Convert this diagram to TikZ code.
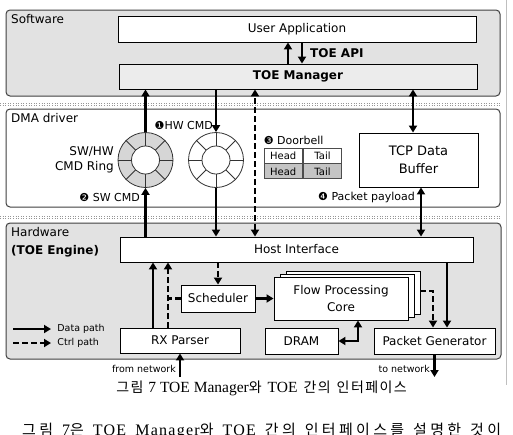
\documentclass[tikz,border=0pt]{standalone}
\usepackage{fontspec}
\setmainfont{DejaVu Sans}
\newfontfamily\krwide[LetterSpace=22]{Noto Sans CJK KR}
\newfontfamily\capwide[LetterSpace=8]{Liberation Serif}
\newfontfamily\krcap[LetterSpace=10]{Noto Sans CJK KR}
\newfontfamily\capcap{Liberation Serif}
\usetikzlibrary{arrows.meta,positioning}

\definecolor{panelgray}{RGB}{226,226,226}
\definecolor{mgrgray}{RGB}{236,236,236}
\definecolor{ringgray}{RGB}{214,214,214}
\definecolor{cellgray}{RGB}{196,196,196}
\definecolor{sepgray}{RGB}{150,150,150}

\tikzset{
  panel/.style={draw=black!75, line width=1pt, rounded corners=4pt, inner sep=0pt},
  blk/.style={draw=black, line width=0.9pt, fill=white, inner sep=0pt, align=center,
    font=\fontsize{12}{17}\selectfont},
  ring/.style={circle, draw=black!80, line width=0.8pt, minimum size=55pt, inner sep=0pt},
  tip/.style={-{Triangle[length=7pt,width=8pt]}},
  both/.style={{Triangle[length=7pt,width=8pt]}-{Triangle[length=7pt,width=8pt]}},
  data/.style={line width=2.8pt, tip},
  ctrl/.style={data, dash pattern=on 6pt off 3pt},
  lbl/.style={inner sep=0pt, font=\fontsize{11}{13}\selectfont},
  small/.style={inner sep=0pt, font=\fontsize{9.5}{11}\selectfont},
  cell/.style={draw=black!70, line width=0.8pt, minimum width=38.5pt, minimum height=15pt,
    inner sep=0pt, font=\fontsize{10}{12}\selectfont},
}

\begin{document}
\begin{tikzpicture}[x=1pt, y=-1pt]
    \useasboundingbox[fill=white] (0,0) rectangle (513,434);

    % Layers
    \node[panel, fill=panelgray, minimum width=494pt, minimum height=86pt] (swl) at (253,53) {};
    \node[panel, fill=white, minimum width=494pt, minimum height=98pt] (dmal) at (253,158) {};
    \node[panel, fill=panelgray, minimum width=495pt, minimum height=136pt] (hwl) at (253.5,291) {};
    \node[lbl, font=\fontsize{12}{14}\selectfont, anchor=north west] at (11,14) {Software};
    \node[lbl, font=\fontsize{12}{14}\selectfont, anchor=north west] at (11,113) {DMA driver};
    \node[lbl, font=\fontsize{12}{18}\selectfont, anchor=north west, align=left] at (11,227) {Hardware\\\textbf{(TOE Engine)}};

    % dotted separators
    \foreach \y in {103,105.5,216,218.5}
        \draw[sepgray, dotted, line width=0.6pt] (0,\y) -- (500,\y);
    \draw[black!25, line width=0.6pt] (506,0) -- (506,385);

    % Software
    \node[blk, minimum width=358pt, minimum height=26pt] (app) at (297,29) {User Application};
    \node[blk, fill=mgrgray, minimum width=358pt, minimum height=25pt] (mgr) at (298,76.5) {\textbf{TOE Manager}};
    \draw[data] ([xshift=-10pt]mgr.north) -- ([xshift=-10pt]mgr.north |- app.south);
    \draw[data] ([xshift=4pt]mgr.north |- app.south) -- ([xshift=4pt]mgr.north);
    \node[lbl, font=\fontsize{12}{14}\selectfont\bfseries, anchor=west] at (310,53) {TOE API};

    % DMA driver
    \node[ring, fill=ringgray] (ring1) at (145.5,160) {};
    \node[ring, fill=white] (ring2) at (216,160) {};
    \foreach \r in {ring1,ring2} {
        \foreach \a in {0,45,...,315}
            \draw[black!80, line width=0.8pt] (\r.center) -- (\r.\a);
        \node[circle, draw=black!80, line width=0.8pt, fill=white, minimum size=28pt] at (\r) {};
    }
    \node[lbl, font=\fontsize{12}{15.5}\selectfont, anchor=east, align=right] at (114,160) {SW/HW\\CMD Ring};
    \node[lbl, anchor=east] at (213,125) {❶HW CMD};
    \node[lbl, anchor=east] at (140,197) {❷ SW CMD};

    \node[cell, fill=white] (head1) at (283.25,155.5) {Head};
    \node[cell, fill=white, right=0pt of head1] (tail1) {Tail};
    \node[cell, fill=cellgray, below=0pt of head1] (head2) {Head};
    \node[cell, fill=cellgray, right=0pt of head2] (tail2) {Tail};
    \node[lbl, anchor=south west] at ([yshift=3pt]head1.north west) {❸ Doorbell};

    \node[blk, font=\fontsize{13}{18}\selectfont, minimum width=119pt, minimum height=54pt] (buf) at (418.5,160) {TCP Data\\Buffer};
    \node[lbl, anchor=east] at (415,197) {❹ Packet payload};

    % Hardware
    \node[blk, minimum width=353pt, minimum height=25pt] (hif) at (296.5,249.5) {Host Interface};
    \node[blk, minimum width=74pt, minimum height=27pt] (sched) at (218,298.5) {Scheduler};
    \node[blk, minimum width=134pt, minimum height=43pt] (fpc3) at (353,292.5) {};
    \node[blk, minimum width=134pt, minimum height=43pt] (fpc2) at (347,295.5) {};
    \node[blk, minimum width=134pt, minimum height=43pt] (fpc) at (341,298.5) {Flow Processing\\Core};
    \node[blk, minimum width=120pt, minimum height=25pt] (rxp) at (180,340.5) {RX Parser};
    \node[blk, minimum width=73pt, minimum height=26pt] (dram) at (301.5,341) {DRAM};
    \node[blk, minimum width=121pt, minimum height=26pt] (pgen) at (434.5,341) {Packet Generator};

    % paths between layers
    \draw[data] (ring1.north) -- (ring1.north |- mgr.south);
    \draw[data] (ring1.south |- hif.north) -- (ring1.south);
    \draw[data] (ring2.north |- mgr.south) -- (ring2.north);
    \draw[data] (ring2.south) -- (ring2.south |- hif.north);
    \draw[ctrl, both] ([xshift=-41.5pt]hif.north) -- ([xshift=-41.5pt]hif.north |- mgr.south);
    \draw[data, both] ([xshift=-5.5pt]buf.north) -- ([xshift=-5.5pt]buf.north |- mgr.south);
    \draw[data, both] ([xshift=2.5pt]buf.south) -- ([xshift=2.5pt]buf.south |- hif.north);

    % paths inside the engine
    \draw[data] ([xshift=-27pt]rxp.north) -- ([xshift=-27pt]rxp.north |- hif.south);
    \draw[ctrl] ([xshift=-12pt]rxp.north) -- ([xshift=-12pt]rxp.north |- hif.south);
    \draw[line width=2.8pt, dash pattern=on 6pt off 3pt] (sched.west) -- (sched.west -| 168,0);
    \draw[ctrl] (sched.north |- hif.south) -- (sched.north);
    \draw[data] (sched.east) -- (fpc.west |- sched.east);
    \draw[ctrl] (fpc3.east |- 0,291) -- (433,291) -- ([xshift=-1.5pt]pgen.north);
    \draw[data] ([xshift=12.5pt]pgen.north |- hif.south) -- ([xshift=12.5pt]pgen.north);
    \draw[data, both] (dram.east) -- (358,341) -- (358,341 |- fpc.south);

    % network
    \coordinate (rxin) at (180,377);
    \coordinate (txout) at (434.5,377);
    \draw[data] (rxin) -- (rxp.south);
    \draw[data] (pgen.south) -- (txout);
    \node[small, anchor=east] at (176,369) {from network};
    \node[small, anchor=east] at (430,369) {to network};

    % legend
    \coordinate (lg1) at (13,329);
    \coordinate (lg2) at (13,343);
    \draw[data] (lg1) -- ++(38,0) node[small, right=5pt] {Data path};
    \draw[ctrl] (lg2) -- ++(38,0) node[small, right=5pt] {Ctrl path};

    % caption
    \node[inner sep=0pt] (cap) at (261.5,388)
        {\fontsize{14}{16}\selectfont\krcap 그림\hspace{5pt}{\fontsize{15.5}{16}\selectfont\capcap 7 TOE Manager}와\hspace{6pt}{\fontsize{15.5}{16}\selectfont\capcap TOE}\hspace{6pt}간의\hspace{6pt}인터페이스};
    \node[inner sep=0pt, anchor=base west] at (22,435)
        {\fontsize{15}{17}\selectfont\krwide 그림\hspace{9pt}{\fontsize{16}{17}\selectfont\capwide 7}은\hspace{9pt}{\fontsize{16}{17}\selectfont\capwide TOE\hspace{9pt}Manager}와\hspace{9pt}{\fontsize{16}{17}\selectfont\capwide TOE}\hspace{9pt}간의\hspace{9pt}인터페이스를\hspace{9pt}설명한\hspace{9pt}것이};
\end{tikzpicture}
\end{document}
